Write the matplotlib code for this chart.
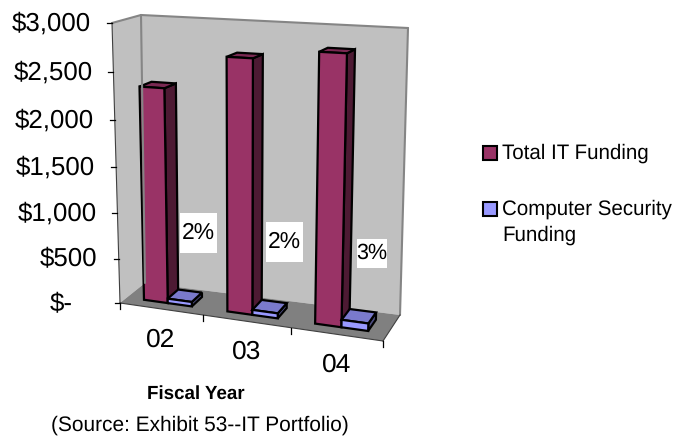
#!/usr/bin/env python3
"""Total IT funding vs computer security funding, old Excel style 3D columns."""
import matplotlib
matplotlib.use('Agg')
import matplotlib.pyplot as plt
from matplotlib.patches import Polygon, Rectangle
import numpy as np

plt.rcParams['font.family'] = ['Liberation Sans', 'DejaVu Sans']
plt.rcParams['text.hinting'] = 'none'

# ============================================================
# DATA
# ============================================================
YEARS = ["02", "03", "04"]
TOTAL_IT = [2330, 2690, 2790]
SECURITY = [50, 55, 80]
PERCENT_LABELS = ["2%", "2%", "3%"]
Y_TICKS = [0, 500, 1000, 1500, 2000, 2500, 3000]
Y_LABELS = ["$-", "$500", "$1,000", "$1,500", "$2,000", "$2,500", "$3,000"]
SERIES_NAMES = ["Total IT Funding", "Computer Security\nFunding"]

# ============================================================
# BOX CORNERS (pixels) and the projection
# ============================================================
FLB, FRB = np.array([120, 303.]), np.array([383, 341.])
BLB, BRB = np.array([145, 283.]), np.array([400, 315.])
FLT, FRT = np.array([112, 23.]), np.array([392, 36.])
BLT, BRT = np.array([141, 15.]), np.array([408, 28.])
YMAX = 3000


def warp(t, k):
    return t / (t + k * (1 - t))


def project(cat, val, depth):
    """cat in category units, val in dollars, depth 0 (front) to 1 (back)"""
    u = warp(cat / len(YEARS), 1.08)
    v = warp(val / YMAX, 1.06)
    bottom_f = FLB + (FRB - FLB) * u
    bottom_b = BLB + (BRB - BLB) * u
    top_f = FLT + (FRT - FLT) * u
    top_b = BLT + (BRT - BLT) * u
    bottom = bottom_f + (bottom_b - bottom_f) * depth
    top = top_f + (top_b - top_f) * depth
    return bottom + (top - bottom) * v


def draw_bar(ax, c0, c1, val, front, side, top, d0=0.28, d1=0.72):
    lw = 1.6
    corners_front = [project(c0, 0, d0), project(c1, 0, d0), project(c1, val, d0), project(c0, val, d0)]
    corners_side = [project(c1, 0, d0), project(c1, 0, d1), project(c1, val, d1), project(c1, val, d0)]
    corners_top = [project(c0, val, d0), project(c1, val, d0), project(c1, val, d1), project(c0, val, d1)]
    for pts, col in [(corners_side, side), (corners_top, top), (corners_front, front)]:
        ax.add_patch(Polygon(pts, closed=True, facecolor=col, edgecolor='black', lw=lw, joinstyle='miter'))


fig = plt.figure(figsize=(6.75, 4.36), dpi=100)
ax = fig.add_axes([0, 0, 1, 1])
ax.set_xlim(0, 675)
ax.set_ylim(436, 0)
ax.axis('off')

# walls and floor
ax.add_patch(Polygon([FLB, BLB, BLT, FLT], facecolor='#C0C0C0', edgecolor='none'))
ax.add_patch(Polygon([BLB, BRB, BRT, BLT], facecolor='#C0C0C0', edgecolor='none'))
ax.add_patch(Polygon([FLB, FRB, BRB, BLB], facecolor='#808080', edgecolor='none'))
for a, b in [(FLT, BLT), (BLT, BRT), (BRT, BRB), (BLT, BLB)]:
    ax.plot([a[0], b[0]], [a[1], b[1]], color='#858585', lw=1.5, solid_capstyle='round')
for a, b in [(FLT, FLB), (FLB, FRB), (FRB, BRB)]:
    ax.plot([a[0], b[0]], [a[1], b[1]], color='#404040', lw=0.8)

# y axis
for val, lab in zip(Y_TICKS, Y_LABELS):
    p = project(0, val, 0)
    ax.plot([p[0] - 5, p[0]], [p[1], p[1]], color='black', lw=0.9)
    xr = p[0] - 21 if val > 0 else p[0] - 47
    ax.text(xr, p[1] + 1, lab, ha='right', va='center', fontsize=18.6, color='black')

# category axis
for i in range(len(YEARS) + 1):
    p = project(i, 0, 0)
    ax.plot([p[0], p[0]], [p[1], p[1] + 6], color='black', lw=0.9)
for i, yr in enumerate(YEARS):
    p = project(i + 0.5, 0, 0)
    ax.text(p[0], p[1] + 31, yr, ha='center', va='center', fontsize=19, color='black')

# bars
for i in range(len(YEARS)):
    draw_bar(ax, i + 0.21, i + 0.50, TOTAL_IT[i], '#993366', '#4D1A33', '#7A2952')
    draw_bar(ax, i + 0.50, i + 0.79, SECURITY[i], '#9999FF', '#4D4D80', '#7A7ACC')

# percent labels
boxes = [(180, 213, 37, 40), (266, 222, 37, 40), (357, 239, 30, 29)]
sizes = [16.5, 16.5, 15.5]
for (bx, by, bw, bh), lab, fs in zip(boxes, PERCENT_LABELS, sizes):
    ax.add_patch(Rectangle((bx, by), bw, bh, facecolor='white', edgecolor='none', zorder=5))
    ax.text(bx + bw / 2, by + bh / 2, lab, ha='center', va='center', fontsize=fs, color='black', zorder=6)

# legend
for ly, col in zip([153, 209], ['#993366', '#9999FF']):
    ax.add_patch(Rectangle((483, ly - 7), 14, 14, facecolor=col, edgecolor='black', lw=1.5))
ax.text(502, 153, SERIES_NAMES[0], ha='left', va='center', fontsize=14.8, color='black')
ax.text(502, 222, SERIES_NAMES[1], ha='left', va='center', fontsize=14.8, color='black', linespacing=1.45)

# axis title and source
ax.text(196, 394, "Fiscal Year", ha='center', va='center', fontsize=13.5, fontweight='bold', color='black')
ax.text(200, 425, "(Source: Exhibit 53--IT Portfolio)", ha='center', va='center', fontsize=15, color='black')

plt.savefig("out.png", dpi=100)
plt.close()
